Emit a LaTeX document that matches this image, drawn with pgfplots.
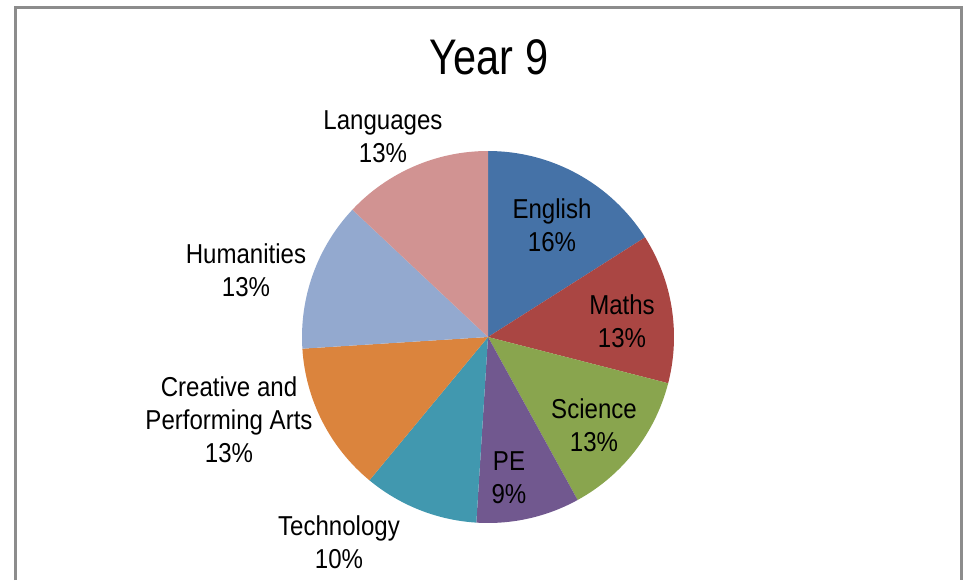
\documentclass[border=0pt]{standalone}
\usepackage{pgfplots}
\pgfplotsset{compat=1.18}
\usepackage{pgfplotstable}
\usepackage{fontspec}
\setmainfont{Liberation Sans}[FakeStretch=0.83]
\newfontfamily\labfont{Liberation Sans}[FakeStretch=0.88]

\definecolor{cEng}{HTML}{4572A7}
\definecolor{cMat}{HTML}{AA4643}
\definecolor{cSci}{HTML}{89A54E}
\definecolor{cPE}{HTML}{71588F}
\definecolor{cTec}{HTML}{4198AF}
\definecolor{cCre}{HTML}{DB843D}
\definecolor{cHum}{HTML}{93A9CF}
\definecolor{cLan}{HTML}{D19392}
\definecolor{cFrame}{HTML}{8C8C8C}

% share in percent, slice colour, label position (px, y from bottom)
\pgfplotstableread[col sep=comma]{
name,value,col,lx,ly
English,16,cEng,552,355
Maths,13,cMat,622,259
Science,13,cSci,594,155
PE,9,cPE,509,102
Technology,10,cTec,339,38
{Creative and\\Performing Arts},13,cCre,229,160
Humanities,13,cHum,246,310
Languages,13,cLan,383,443
}\piedata

\begin{document}
\begin{tikzpicture}
\begin{axis}[
  hide axis, scale only axis, clip=false,
  x=0.75pt, y=0.75pt,
  xmin=0, xmax=964, ymin=0, ymax=580,
]
\path (axis cs:0,0) rectangle (axis cs:964,580);
% chart frame
\draw[cFrame, line width=2.25pt] (axis cs:15.5,0) -- (axis cs:15.5,572) -- (axis cs:961,572) -- (axis cs:961,0);

\node[font=\fontsize{37.5pt}{45pt}\selectfont] at (axis cs:489,523) {Year 9};

\xdef\angA{90}
\foreach \i in {0,...,7} {
  \pgfplotstablegetelem{\i}{value}\of\piedata \let\v\pgfplotsretval
  \pgfplotstablegetelem{\i}{col}\of\piedata \let\c\pgfplotsretval
  \pgfmathsetmacro\angB{\angA - 3.6*\v}
  \edef\temp{\noexpand\fill[\c] (axis cs:488,243) -- ++(\angA:139.5pt)
    arc[start angle=\angA, end angle=\angB, radius=139.5pt] -- cycle;}
  \temp
  \xdef\angA{\angB}
}
\foreach \i in {0,...,7} {
  \pgfplotstablegetelem{\i}{value}\of\piedata \let\v\pgfplotsretval
  \pgfplotstablegetelem{\i}{name}\of\piedata \let\lab\pgfplotsretval
  \pgfplotstablegetelem{\i}{lx}\of\piedata \let\lx\pgfplotsretval
  \pgfplotstablegetelem{\i}{ly}\of\piedata \let\ly\pgfplotsretval
  \edef\temp{\noexpand\node[align=center, font=\noexpand\labfont\noexpand\fontsize{20.5pt}{24.75pt}\noexpand\selectfont]
    at (axis cs:\lx,\ly) {\unexpanded\expandafter{\lab}\noexpand\\\v\noexpand\%};}
  \temp
}
\end{axis}
\end{tikzpicture}
\end{document}
